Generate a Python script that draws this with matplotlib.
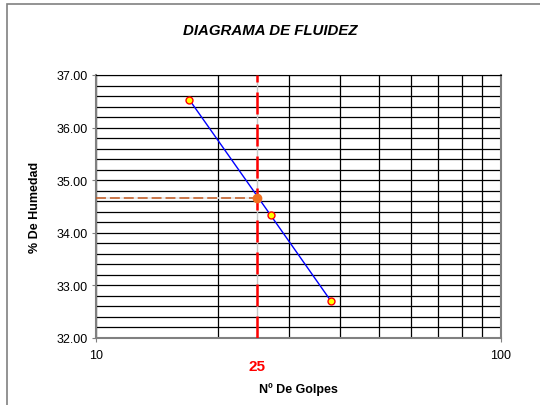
import matplotlib.pyplot as plt
from matplotlib.ticker import MultipleLocator, FixedLocator, NullFormatter, FormatStrFormatter
from matplotlib.patches import Rectangle

plt.rcParams.update({'font.family': 'Liberation Sans', 'font.size': 9})

# data
golpes = [17, 27, 38]
humedad = [36.53, 34.33, 32.70]
golpes_ref = 25
humedad_ref = 34.65
x_ticks = [10, 100]
x_minor = [20, 30, 40, 50, 60, 70, 80, 90]

fig = plt.figure(figsize=(5.4, 4.06), dpi=100, facecolor='white')
# outer chart frame
fig.patches.append(Rectangle((7/540, -0.1), 1.2, 1 - 5/406 + 0.1, transform=fig.transFigure,
                             fill=False, edgecolor='#808080', lw=1.2))

ax = fig.add_axes([96/540, 1 - 338.7/406, 405/540, 262.7/406])
ax.set_xscale('log')
ax.set_xlim(10, 100)
ax.set_ylim(32, 37)

ax.xaxis.set_major_locator(FixedLocator(x_ticks))
ax.xaxis.set_minor_locator(FixedLocator(x_minor))
ax.xaxis.set_major_formatter(FormatStrFormatter('%d'))
ax.xaxis.set_minor_formatter(NullFormatter())
ax.yaxis.set_major_locator(MultipleLocator(1.0))
ax.yaxis.set_minor_locator(MultipleLocator(0.2))
ax.yaxis.set_major_formatter(FormatStrFormatter('%.2f'))

ax.grid(which='both', color='black', lw=0.9)
ax.tick_params(which='minor', length=0)
ax.tick_params(which='major', length=3, color='#808080', labelsize=9)
ax.tick_params(axis='x', pad=5)
ax.tick_params(axis='y', pad=3)
for s in ['left', 'bottom', 'right']:
    ax.spines[s].set_color('#808080')
    ax.spines[s].set_linewidth(1.5)
ax.spines['top'].set_color('black')
ax.set_axisbelow(True)

# reference lines at 25 blows
ax.axvline(golpes_ref, color='#c8c8c8', lw=1, zorder=2)
ax.axvline(golpes_ref, color='red', lw=1.8, dashes=(8.8, 4), zorder=3)
ax.plot([10, golpes_ref], [humedad_ref, humedad_ref], color='#e8e8e8', lw=1.2, zorder=2)
ax.plot([10, golpes_ref], [humedad_ref, humedad_ref], color='#c0561c', lw=1.1, dashes=(6.5, 2.6), zorder=3)

ax.plot(golpes, humedad, color='blue', lw=1, zorder=4)
ax.plot(golpes, humedad, ls='none', marker='o', ms=5, mfc='yellow', mec='red', mew=1, zorder=5)
ax.plot([golpes_ref], [humedad_ref], ls='none', marker='o', ms=6, mfc='#f07020', mec='#f07020', zorder=5)

ax.text(golpes_ref, 31.46, '25', color='red', fontsize=11, fontweight='bold', ha='center', va='center')
ax.set_xlabel('Nº De Golpes', fontsize=9, fontweight='bold', labelpad=15)
ax.set_ylabel('% De Humedad', fontsize=9, fontweight='bold', labelpad=11)
fig.text(270/540, 1 - 31/406, 'DIAGRAMA DE FLUIDEZ', fontsize=10.8, fontweight='bold',
         fontstyle='italic', ha='center', va='center')

fig.savefig('out.png', dpi=100)
